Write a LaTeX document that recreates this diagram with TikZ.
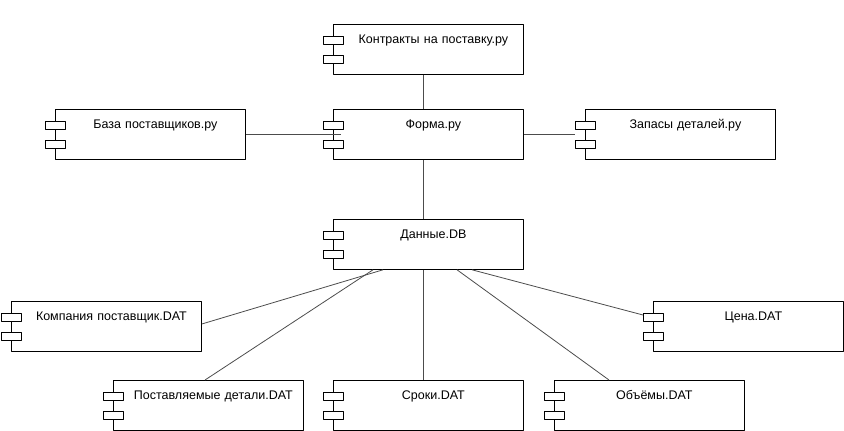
\documentclass[tikz,border=0pt]{standalone}
\usepackage{fontspec}
\setmainfont{Liberation Sans}
\begin{document}
\begin{tikzpicture}[x=1pt,y=-1pt,line join=round,
    comp/.style={draw,line width=0.8pt,anchor=north west,text width=190pt,align=center,
      inner xsep=0pt,inner ysep=0pt,text height=19pt,text depth=31pt,
      font=\fontsize{12.5}{14}\selectfont,execute at begin node={\hspace*{10pt}}},
    link/.style={draw=black!70,line width=0.8pt}]
  \useasboundingbox (0,0) rectangle (844,431);
  % components
  \node[comp] (kontr) at (333,24) {Контракты на поставку.ру};
  \node[comp] (baza) at (55,109) {База поставщиков.ру};
  \node[comp] (forma) at (333,109) {Форма.ру};
  \node[comp] (zapas) at (585,109) {Запасы деталей.ру};
  \node[comp] (dannye) at (333,219) {Данные.DB};
  \node[comp] (komp) at (11,301) {Компания поставщик.DAT};
  \node[comp] (cena) at (653,301) {Цена.DAT};
  \node[comp] (postav) at (113,380) {Поставляемые детали.DAT};
  \node[comp] (sroki) at (333,380) {Сроки.DAT};
  \node[comp] (obem) at (554,380) {Объёмы.DAT};
  % links
  \draw[link] ([xshift=90pt]kontr.south west) -- ([xshift=90pt]forma.north west);
  \draw[link] ([yshift=-25pt]baza.north east) -- ([xshift=8pt,yshift=-25pt]forma.north west);
  \draw[link] ([yshift=-25pt]forma.north east) -- ([xshift=-10pt,yshift=-25pt]zapas.north west);
  \draw[link] ([xshift=90pt]forma.south west) -- ([xshift=90pt]dannye.north west);
  \draw[link] ([xshift=50pt]dannye.south west) -- ([yshift=-23pt]komp.north east);
  \draw[link] ([xshift=40pt]dannye.south west) -- ([xshift=92pt]postav.north west);
  \draw[link] ([xshift=90pt]dannye.south west) -- ([xshift=90pt]sroki.north west);
  \draw[link] ([xshift=124pt]dannye.south west) -- ([xshift=55pt]obem.north west);
  \draw[link] ([xshift=139pt]dannye.south west) -- ([xshift=-10pt,yshift=-14pt]cena.north west);
  % small ports
  \foreach \n in {kontr,baza,forma,zapas,dannye,komp,cena,postav,sroki,obem}{
    \draw[fill=white,line width=0.8pt] ([xshift=-10pt,yshift=-12pt]\n.north west) rectangle ++(20pt,-8pt);
    \draw[fill=white,line width=0.8pt] ([xshift=-10pt,yshift=-31pt]\n.north west) rectangle ++(20pt,-8pt);
  }
\end{tikzpicture}
\end{document}
